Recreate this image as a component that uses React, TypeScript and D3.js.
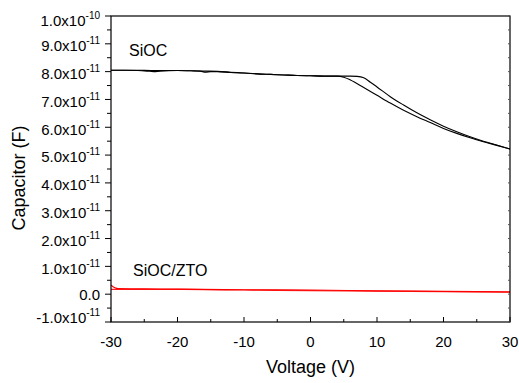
import React from "react";
import * as d3 from "d3";

// SiOC sweep A (transition begins earlier) — voltage (V) and capacitance (x1e-11 F)
const sweepAV = [-30, -28, -26, -24.6, -23.6, -22.6, -20, -18, -16.6, -15.8, -15, -14, -12, -10, -8, -6, -4, -2, 0, 2, 4, 5, 6, 8, 10, 12, 14, 16, 18, 20, 22, 24, 26, 28, 30];
const sweepAC = [8.05, 8.05, 8.04, 8.02, 8.0, 8.02, 8.04, 8.03, 8.02, 7.98, 8.0, 8.0, 7.97, 7.95, 7.92, 7.9, 7.88, 7.86, 7.85, 7.84, 7.84, 7.8, 7.7, 7.43, 7.15, 6.87, 6.61, 6.38, 6.17, 5.96, 5.78, 5.62, 5.48, 5.35, 5.22];
// SiOC sweep B (transition begins later)
const sweepBV = [-30, -28, -26, -24, -22, -20, -18, -16, -14, -12, -10, -8, -6, -4, -2, 0, 2, 4, 6, 7, 8, 9, 10, 12, 14, 16, 18, 20, 22, 24, 26, 28, 30];
const sweepBC = [8.05, 8.05, 8.05, 8.04, 8.04, 8.04, 8.03, 8.02, 8.01, 7.98, 7.95, 7.92, 7.9, 7.88, 7.86, 7.85, 7.84, 7.84, 7.84, 7.83, 7.78, 7.62, 7.45, 7.1, 6.8, 6.52, 6.27, 6.04, 5.84, 5.66, 5.5, 5.36, 5.22];
// SiOC/ZTO sweeps
const ztoAV = [-30, -29.7, -29.3, -29, -25, -20, -10, 0, 10, 20, 30];
const ztoAC = [0.32, 0.27, 0.22, 0.2, 0.19, 0.18, 0.16, 0.15, 0.12, 0.1, 0.08];
const ztoBV = [-30, -25, -20, -10, 0, 10, 20, 30];
const ztoBC = [0.17, 0.17, 0.17, 0.15, 0.13, 0.11, 0.09, 0.07];

const xTicks = [-30, -20, -10, 0, 10, 20, 30];
const xMinor = [-25, -15, -5, 5, 15, 25];
const yTicks = [-1e-11, 0, 1e-11, 2e-11, 3e-11, 4e-11, 5e-11, 6e-11, 7e-11, 8e-11, 9e-11, 1e-10];
const yMinor = [-0.5e-11, 0.5e-11, 1.5e-11, 2.5e-11, 3.5e-11, 4.5e-11, 5.5e-11, 6.5e-11, 7.5e-11, 8.5e-11, 9.5e-11];

const FONT = "'Liberation Sans', Arial, sans-serif";

export default function App() {
  const W = 519, H = 383;
  const L = 111, R = 510, T = 16, B = 322;
  const x = d3.scaleLinear().domain([-30, 30]).range([L, R]);
  const y = d3.scaleLinear().domain([-1e-11, 1e-10]).range([B, T]);

  const mk = (vs: number[], cs: number[]) => {
    const pts: [number, number][] = vs.map((v, i) => [v, cs[i] * 1e-11]);
    return d3.line<[number, number]>().x(d => x(d[0])).y(d => y(d[1])).curve(d3.curveMonotoneX)(pts) || "";
  };

  const yLabel = (v: number) => {
    const ty = y(v);
    if (v === 0) {
      return (
        <text key={v} x={100} y={ty + 5.4} textAnchor="end" fontSize={15} fontFamily={FONT}>0.0</text>
      );
    }
    const [m, e] = v.toExponential(1).split("e");
    const exp = String(parseInt(e, 10));
    let c = ty + 2;
    c = Math.max(21, Math.min(318, c));
    return (
      <text key={v} x={100} y={c + 5.4} textAnchor="end" fontSize={15} fontFamily={FONT}>
        {m}x10<tspan dy={-7} fontSize={10}>{exp}</tspan>
      </text>
    );
  };

  return (
    <svg width={W} height={H} style={{ position: "absolute", left: 0, top: 0, background: "#fff" }}>
      <rect x={0} y={0} width={W} height={H} fill="#fff" />
      {/* curves */}
      <path d={mk(ztoBV, ztoBC)} fill="none" stroke="#ff2020" strokeWidth={1.2} />
      <path d={mk(ztoAV, ztoAC)} fill="none" stroke="#ff0000" strokeWidth={1.2} />
      <path d={mk(sweepAV, sweepAC)} fill="none" stroke="#000" strokeWidth={1.1} />
      <path d={mk(sweepBV, sweepBC)} fill="none" stroke="#000" strokeWidth={1.1} />

      {/* frame */}
      <rect x={L} y={T} width={R - L} height={B - T} fill="none" stroke="#000" strokeWidth={1.2} />

      {/* x ticks (inward) */}
      {xTicks.map(t => (
        <line key={"xt" + t} x1={x(t)} x2={x(t)} y1={B} y2={B - 5} stroke="#000" />
      ))}
      {xMinor.map(t => (
        <line key={"xm" + t} x1={x(t)} x2={x(t)} y1={B} y2={B - 3} stroke="#000" />
      ))}
      {xTicks.map(t => (
        <text key={"xl" + t} x={x(t)} y={347} textAnchor="middle" fontSize={15} fontFamily={FONT}>{t}</text>
      ))}

      {/* y ticks (outward) */}
      {yTicks.map(t => (
        <line key={"yt" + t} x1={L} x2={L - 6} y1={y(t)} y2={y(t)} stroke="#000" />
      ))}
      {yMinor.map(t => (
        <line key={"ym" + t} x1={L} x2={L - 4} y1={y(t)} y2={y(t)} stroke="#000" />
      ))}
      {/* right axis small inward ticks */}
      {[...yTicks, ...yMinor].map(t => (
        <line key={"yr" + t} x1={R} x2={R - 2} y1={y(t)} y2={y(t)} stroke="#555" />
      ))}
      {yTicks.map(yLabel)}

      {/* annotations */}
      <text x={129} y={56} fontSize={16} fontFamily={FONT}>SiOC</text>
      <text x={133} y={276} fontSize={16} fontFamily={FONT}>SiOC/ZTO</text>

      {/* axis titles */}
      <text x={(L + R) / 2} y={373} textAnchor="middle" fontSize={18} fontFamily={FONT}>Voltage (V)</text>
      <text transform={`translate(25,${178}) rotate(-90)`} textAnchor="middle" fontSize={18} fontFamily={FONT}>Capacitor (F)</text>
    </svg>
  );
}
